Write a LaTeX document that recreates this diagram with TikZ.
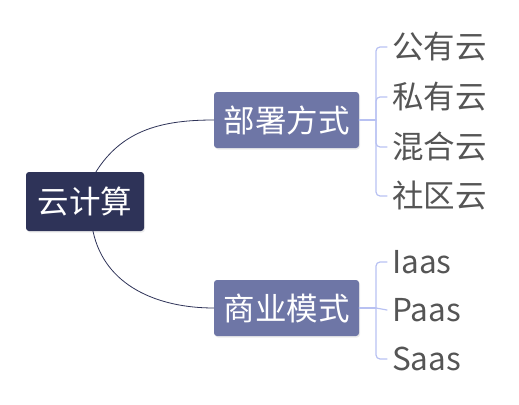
\documentclass[tikz,border=0pt]{standalone}
\usepackage{fontspec}
\setmainfont{Noto Sans CJK SC}
\usetikzlibrary{shadows}
\definecolor{rootcol}{HTML}{2E3358}
\definecolor{branchcol}{HTML}{6E76A6}
\definecolor{leafline}{HTML}{B8C1F2}
\definecolor{leaftext}{HTML}{555555}
\tikzset{
	rootbox/.style={fill=rootcol, text=white, rounded corners=3pt, minimum width=118pt, minimum height=59pt, inner sep=0pt, drop shadow={opacity=0.15, shadow xshift=1pt, shadow yshift=-1.5pt}},
	branchbox/.style={fill=branchcol, text=white, rounded corners=3pt, minimum width=145pt, minimum height=56pt, inner sep=0pt, drop shadow={opacity=0.15, shadow xshift=1pt, shadow yshift=-1.5pt}},
	leaf/.style={text=leaftext, anchor=west, inner xsep=5pt, inner ysep=0pt, text height=27.5pt, text depth=4pt},
	trunk/.style={draw=rootcol, line width=0.8pt},
	twig/.style={draw=leafline, line width=1.2pt, rounded corners=4pt}
}
\begin{document}
\begin{tikzpicture}[x=1pt, y=-1pt, font=\fontsize{31.5}{34}\selectfont, line join=round, line cap=round]
	\useasboundingbox (0,0) rectangle (519,404);
	% centre and branches
	\node[rootbox] (cloud) at (85,201.5) {云计算};
	\node[branchbox] (deploy) at (286.5,120) {部署方式};
	\node[branchbox] (biz) at (286.5,308) {商业模式};
	\draw[trunk] ([xshift=11pt]cloud.north) to[out=58, in=180] (deploy.west);
	\draw[trunk] ([xshift=8pt]cloud.south) to[out=-78, in=180] (biz.west);
	% leaves
	\node[leaf] (pub) at (387,47) {公有云};
	\node[leaf] (priv) at (387,97) {私有云};
	\node[leaf] (hyb) at (387,147) {混合云};
	\node[leaf] (comm) at (387,196) {社区云};
	\node[leaf] (iaas) at (387,262) {Iaas};
	\node[leaf] (paas) at (387,310) {Paas};
	\node[leaf] (saas) at (387,359) {Saas};
	\coordinate (fork1) at (376,120);
	\coordinate (fork2) at (376,308);
	\draw[twig] (deploy.east) -- (fork1);
	\draw[twig] (pub.west) -| (fork1) |- (comm.west);
	\draw[twig] (priv.west) -| (fork1);
	\draw[twig] (hyb.west) -| (fork1);
	\draw[twig] (biz.east) -- (fork2);
	\draw[twig] (paas.west) -- (fork2);
	\draw[twig] (iaas.west) -| (fork2) |- (saas.west);
\end{tikzpicture}
\end{document}
